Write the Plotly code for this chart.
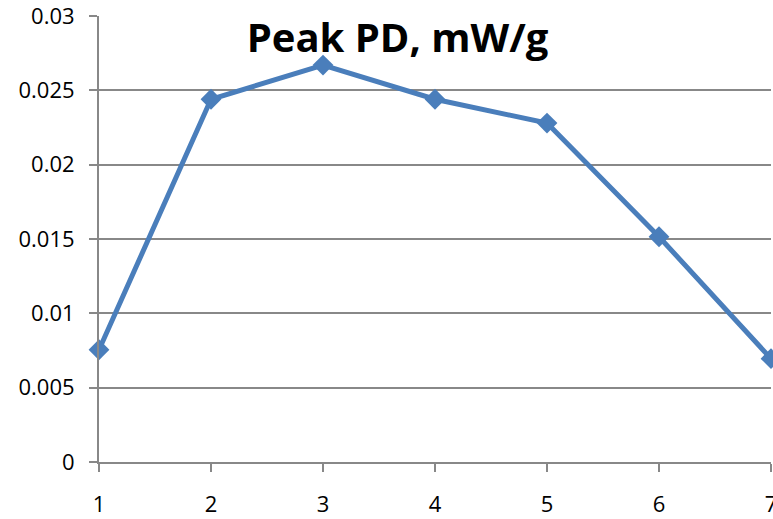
import plotly.graph_objects as go

# Peak power density per sample
samples = [1, 2, 3, 4, 5, 6, 7]
peak_pd = [0.00755, 0.0244, 0.0267, 0.0244, 0.0228, 0.01515, 0.00695]
y_ticks = [0, 0.005, 0.01, 0.015, 0.02, 0.025, 0.03]
y_tick_text = ["0", "0.005", "0.01", "0.015", "0.02", "0.025", "0.03"]

line_blue = "#4A7EBB"
grid_grey = "#888888"

fig = go.Figure()
fig.add_trace(go.Scatter(
    x=samples,
    y=peak_pd,
    mode="lines+markers",
    line=dict(color=line_blue, width=5),
    marker=dict(symbol="diamond", size=16, color=line_blue),
    cliponaxis=False,
    showlegend=False,
))

fig.update_layout(
    width=773,
    height=519,
    margin=dict(l=99, r=2, t=16, b=57),
    paper_bgcolor="white",
    plot_bgcolor="white",
    font=dict(family="Open Sans, sans-serif", size=22, color="black"),
    title=dict(
        text="<b>Peak PD, mW/g</b>",
        x=397.5 / 773,
        xanchor="center",
        y=1 - 38 / 519,
        yanchor="middle",
        font=dict(family="Open Sans, sans-serif", size=40, color="black"),
    ),
)

fig.update_xaxes(
    range=[1, 7],
    tickvals=samples,
    ticks="outside",
    ticklen=8,
    tickcolor=grid_grey,
    tickwidth=2,
    showline=True,
    linecolor=grid_grey,
    linewidth=2,
    showgrid=False,
    zeroline=False,
    ticklabelstandoff=14,
    ticklabeloverflow="allow",
    automargin=False,
)

fig.update_yaxes(
    range=[0, 0.03],
    tickvals=y_ticks,
    ticktext=y_tick_text,
    ticks="outside",
    ticklen=8,
    tickcolor=grid_grey,
    tickwidth=2,
    showline=True,
    linecolor=grid_grey,
    linewidth=2,
    showgrid=True,
    gridcolor=grid_grey,
    gridwidth=2,
    zeroline=False,
    ticklabelstandoff=10,
    ticklabeloverflow="allow",
    automargin=False,
)

fig.write_html("out.html")
